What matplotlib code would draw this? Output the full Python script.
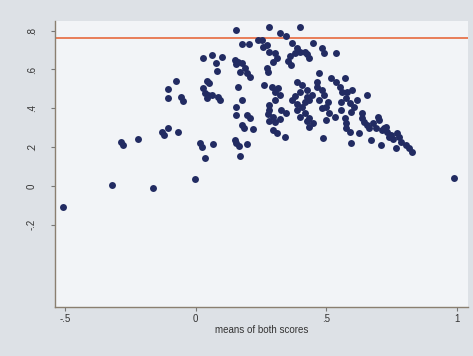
import numpy as np
import matplotlib
matplotlib.use('Agg')
import matplotlib.pyplot as plt

# mean of both scores (x) vs difference (y)
mean_scores = [
    -0.508, -0.321, -0.164, -0.004, 0.989, -0.286, -0.279, -0.221, -0.130, -0.122,
    -0.107, -0.069, -0.107, -0.107, -0.076, -0.057, -0.050, 0.015, 0.023, 0.034,
    0.065, 0.027, 0.061, 0.076, 0.099, 0.080, 0.042, 0.050, 0.027, 0.034,
    0.046, 0.061, 0.084, 0.092, 0.042, 0.156, 0.179, 0.202, 0.149, 0.160,
    0.176, 0.153, 0.168, 0.187, 0.198, 0.206, 0.160, 0.176, 0.156, 0.156,
    0.195, 0.206, 0.176, 0.183, 0.221, 0.149, 0.156, 0.164, 0.195, 0.168,
    0.237, 0.252, 0.256, 0.271, 0.282, 0.302, 0.309, 0.294, 0.279, 0.321,
    0.344, 0.271, 0.275, 0.263, 0.290, 0.313, 0.302, 0.321, 0.302, 0.282,
    0.282, 0.275, 0.294, 0.282, 0.305, 0.324, 0.328, 0.344, 0.294, 0.309,
    0.340, 0.370, 0.386, 0.378, 0.359, 0.351, 0.366, 0.397, 0.397, 0.416,
    0.427, 0.435, 0.447, 0.389, 0.405, 0.397, 0.378, 0.370, 0.389, 0.416,
    0.427, 0.443, 0.424, 0.435, 0.389, 0.405, 0.416, 0.397, 0.435, 0.447,
    0.424, 0.435, 0.481, 0.492, 0.538, 0.473, 0.462, 0.462, 0.481, 0.492,
    0.473, 0.504, 0.500, 0.519, 0.538, 0.569, 0.550, 0.561, 0.580, 0.576,
    0.557, 0.588, 0.599, 0.481, 0.511, 0.531, 0.500, 0.557, 0.569, 0.576,
    0.576, 0.588, 0.485, 0.595, 0.615, 0.607, 0.595, 0.653, 0.634, 0.637,
    0.645, 0.695, 0.702, 0.676, 0.691, 0.714, 0.729, 0.733, 0.748, 0.740,
    0.756, 0.771, 0.779, 0.786, 0.805, 0.817, 0.828, 0.767, 0.710, 0.672,
    0.626, 0.653, 0.664, 0.721,
]
diff_scores = [
    -0.108, 0.005, -0.010, 0.036, 0.041, 0.227, 0.211, 0.242, 0.278, 0.263,
    0.299, 0.278, 0.500, 0.454, 0.541, 0.459, 0.438, 0.222, 0.201, 0.144,
    0.217, 0.660, 0.675, 0.634, 0.665, 0.593, 0.541, 0.531, 0.505, 0.479,
    0.469, 0.469, 0.459, 0.443, 0.454, 0.804, 0.732, 0.732, 0.650, 0.639,
    0.634, 0.629, 0.588, 0.608, 0.583, 0.562, 0.510, 0.443, 0.407, 0.366,
    0.366, 0.351, 0.314, 0.299, 0.294, 0.237, 0.222, 0.206, 0.217, 0.155,
    0.753, 0.753, 0.717, 0.727, 0.691, 0.686, 0.660, 0.639, 0.820, 0.789,
    0.773, 0.608, 0.588, 0.521, 0.510, 0.505, 0.485, 0.469, 0.443, 0.418,
    0.392, 0.371, 0.356, 0.335, 0.330, 0.345, 0.392, 0.376, 0.289, 0.273,
    0.253, 0.737, 0.711, 0.686, 0.670, 0.644, 0.624, 0.820, 0.691, 0.691,
    0.680, 0.660, 0.737, 0.536, 0.521, 0.485, 0.464, 0.443, 0.423, 0.433,
    0.495, 0.469, 0.459, 0.443, 0.392, 0.407, 0.376, 0.356, 0.351, 0.325,
    0.335, 0.304, 0.711, 0.686, 0.686, 0.583, 0.536, 0.510, 0.495, 0.469,
    0.443, 0.433, 0.407, 0.557, 0.536, 0.557, 0.510, 0.485, 0.485, 0.454,
    0.433, 0.428, 0.495, 0.402, 0.376, 0.356, 0.340, 0.392, 0.351, 0.325,
    0.299, 0.278, 0.247, 0.222, 0.443, 0.407, 0.381, 0.469, 0.376, 0.351,
    0.330, 0.356, 0.340, 0.325, 0.299, 0.289, 0.304, 0.278, 0.263, 0.253,
    0.242, 0.273, 0.253, 0.227, 0.211, 0.196, 0.175, 0.196, 0.211, 0.237,
    0.273, 0.314, 0.299, 0.299,
]
upper_limit = 0.76

x_ticks = [-0.5, 0, 0.5, 1]
x_ticklabels = ['-.5', '0', '.5', '1']
y_ticks = [-0.2, 0, 0.2, 0.4, 0.6, 0.8]
y_ticklabels = ['-.2', '0', '.2', '.4', '.6', '.8']

plt.rcParams['font.family'] = ['Liberation Sans', 'DejaVu Sans']

fig = plt.figure(figsize=(4.73, 3.56), dpi=100)
fig.patch.set_facecolor('#dde1e6')
ax = fig.add_axes([0.116, 0.138, 0.873, 0.803])
ax.set_facecolor('#f2f4f7')

ax.scatter(mean_scores, diff_scores, s=25, color='#222b62', linewidths=0, zorder=3)
ax.axhline(upper_limit, color='#e8744c', lw=1.3, zorder=2)

ax.set_xlim(-0.538, 1.04)
ax.set_ylim(-0.624, 0.85)

ax.set_xticks(x_ticks)
ax.set_xticklabels(x_ticklabels)
ax.set_yticks(y_ticks)
ax.set_yticklabels(y_ticklabels, rotation=90, va='center')
ax.tick_params(axis='both', labelsize=7, color='#777777', labelcolor='#333333', length=3)
ax.tick_params(axis='y', pad=10)
ax.tick_params(axis='x', pad=2)

ax.set_xlabel('means of both scores', fontsize=7, color='#333333', labelpad=1)

for side in ['top', 'right']:
    ax.spines[side].set_visible(False)
for side in ['left', 'bottom']:
    ax.spines[side].set_color('#8a7f70')
    ax.spines[side].set_linewidth(1.0)

plt.savefig('out.png', dpi=100, facecolor=fig.get_facecolor())
